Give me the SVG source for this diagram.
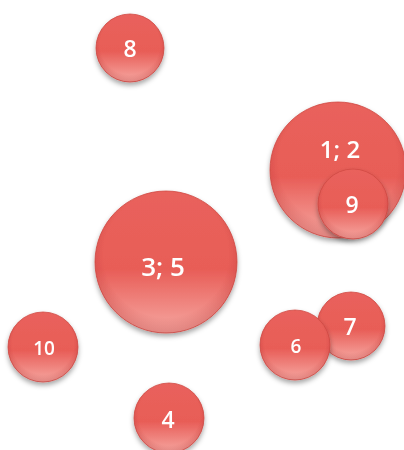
<svg xmlns="http://www.w3.org/2000/svg" width="404" height="450" viewBox="0 0 404 450">
<defs>
<linearGradient id="fillG" x1="0" y1="0" x2="0" y2="1">
<stop offset="0" stop-color="#e9625c"/>
<stop offset="0.55" stop-color="#e85d57"/>
<stop offset="1" stop-color="#f6a8a2"/>
</linearGradient>
<radialGradient id="edgeG" cx="0.5" cy="0.45" r="0.55">
<stop offset="0.8" stop-color="#a02020" stop-opacity="0"/>
<stop offset="1" stop-color="#a02020" stop-opacity="0.25"/>
</radialGradient>
<filter id="sh" x="-30%" y="-30%" width="160%" height="170%">
<feGaussianBlur in="SourceAlpha" stdDeviation="2.5"/>
<feOffset dy="3" result="b"/>
<feFlood flood-color="#000" flood-opacity="0.35"/>
<feComposite in2="b" operator="in" result="s"/>
<feMerge><feMergeNode in="s"/><feMergeNode in="SourceGraphic"/></feMerge>
</filter>
</defs>
<style>
.c{fill:url(#fillG);stroke:#d04a44;stroke-width:0.8}
.e{fill:url(#edgeG)}
.t{fill:#ffffff;font-family:"Open Sans","Liberation Sans",sans-serif;font-weight:600;text-anchor:middle}
</style>
<g id="connectors"/>
<g id="n8" filter="url(#sh)"><circle class="c" cx="130" cy="48" r="34"/><circle class="e" cx="130" cy="48" r="34"/><text class="t" x="130" y="57" font-size="23">8</text></g>
<g id="n12" filter="url(#sh)"><circle class="c" cx="338" cy="170" r="68"/><circle class="e" cx="338" cy="170" r="68"/><text class="t" x="340" y="158" font-size="24">1; 2</text></g>
<g id="n9" filter="url(#sh)"><circle class="c" cx="353" cy="204" r="35"/><circle class="e" cx="353" cy="204" r="35"/><text class="t" x="352" y="213" font-size="23">9</text></g>
<g id="n35" filter="url(#sh)"><circle class="c" cx="166" cy="262" r="71"/><circle class="e" cx="166" cy="262" r="71"/><text class="t" x="163" y="276" font-size="26">3; 5</text></g>
<g id="n7" filter="url(#sh)"><circle class="c" cx="351" cy="326" r="34"/><circle class="e" cx="351" cy="326" r="34"/><text class="t" x="350" y="335" font-size="23">7</text></g>
<g id="n6" filter="url(#sh)"><circle class="c" cx="295" cy="345" r="35"/><circle class="e" cx="295" cy="345" r="35"/><text class="t" x="296" y="353" font-size="19">6</text></g>
<g id="n10" filter="url(#sh)"><circle class="c" cx="43" cy="347" r="35"/><circle class="e" cx="43" cy="347" r="35"/><text class="t" x="44" y="355" font-size="19">10</text></g>
<g id="n4" filter="url(#sh)"><circle class="c" cx="169" cy="418" r="35"/><circle class="e" cx="169" cy="418" r="35"/><text class="t" x="168" y="428" font-size="23">4</text></g>
</svg>
